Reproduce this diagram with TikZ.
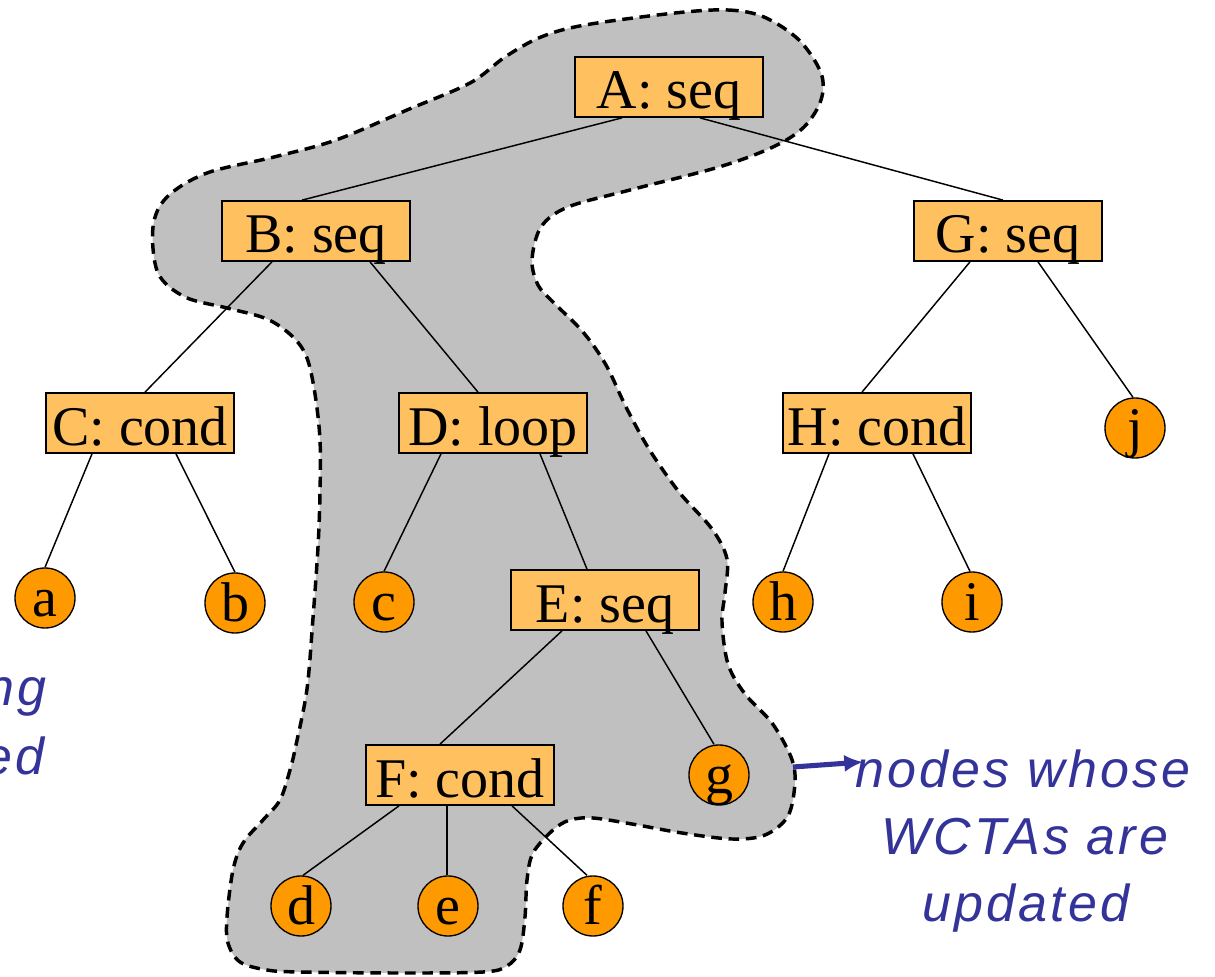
\documentclass[tikz,border=0pt]{standalone}
\usepackage{fontspec}
\setmainfont{Liberation Serif}
\newfontfamily\notefont[LetterSpace=6]{Liberation Sans}
\usetikzlibrary{arrows.meta,calc}
\definecolor{boxfill}{HTML}{FFC060}
\definecolor{leaffill}{HTML}{FF9900}
\definecolor{blobgray}{HTML}{C0C0C0}
\definecolor{noteblue}{HTML}{333399}
\tikzset{
  tbox/.style={draw=black, line width=1.3pt, fill=boxfill, minimum width=141pt, minimum height=45pt,
    inner sep=0pt, text height=33pt, text depth=0pt, font=\fontsize{42}{50}\selectfont},
  leaf/.style={circle, draw=black, line width=1pt, fill=leaffill, minimum size=45pt, inner sep=0pt,
    text height=27pt, text depth=0pt, font=\fontsize{42}{50}\selectfont},
  edge/.style={draw=black, line width=1.1pt},
  blob/.style={fill=blobgray, draw=black, line width=2.6pt, dash pattern=on 8pt off 5pt, line join=round},
  note/.style={text=noteblue, inner sep=0pt, font=\fontsize{39}{44}\selectfont\notefont\itshape},
  pointer/.style={draw=noteblue, line width=3.8pt, -{Latex[length=14pt,width=13pt]}}
}
\begin{document}
\begin{tikzpicture}[x=0.75pt,y=-0.75pt]
\useasboundingbox (0,0) rectangle (1215,977);
\clip (0,0) rectangle (1215,977);
% highlighted region
\draw[blob] plot[smooth cycle, tension=0.55] coordinates {
 (675,13) (728,10) (764,17) (799,40) (821,73) (821,100) (804,127) (773,147) (719,167)
 (630,190) (568,207) (541,227) (532,260) (538,285) (553,302) (583,332) (606,365)
 (626,407) (649,449) (679,492) (712,529) (727,559) (725,593) (722,622) (728,664)
 (745,694) (772,723) (791,757) (795,782) (788,816) (765,835) (732,839) (682,833)
 (632,824) (593,818) (570,820) (553,830) (533,853) (527,880) (525,917) (520,950)
 (507,966) (483,972) (400,973) (300,972) (267,970) (240,962) (228,943) (227,917)
 (233,870) (243,843) (263,820) (280,800) (290,770) (296,745) (307,689) (313,618)
 (318,547) (320,493) (320,440) (315,394) (307,358) (293,337) (267,319) (227,308)
 (185,297) (158,273) (153,227) (167,197) (207,173) (274,157) (336,140) (407,110)
 (470,83) (505,57) (541,37) (585,25)};
% inner nodes
\node[tbox] (A) at (669,87) {A: seq};
\node[tbox] (B) at (316,231) {B: seq};
\node[tbox] (G) at (1008,231) {G: seq};
\node[tbox] (C) at (140,423) {C: cond};
\node[tbox] (D) at (493,423) {D: loop};
\node[tbox] (H) at (877,423) {H: cond};
\node[tbox] (E) at (605,600) {E: seq};
\node[tbox] (F) at (460,775) {F: cond};
% leaves
\node[leaf] (a) at (45,598) {a};
\node[leaf] (b) at (235,603) {b};
\node[leaf] (c) at (384,602) {c};
\node[leaf] (h) at (783,602) {h};
\node[leaf] (i) at (972,602) {i};
\node[leaf] (j) at (1135,428) {j};
\node[leaf] (g) at (719,775) {g};
\node[leaf] (d) at (301,906) {d};
\node[leaf] (e) at (448,906) {e};
\node[leaf] (f) at (593,906) {f};
% edges
\draw[edge] ($(A.south)+(-47,0)$) -- ($(B.north)+(-14,0)$);
\draw[edge] ($(A.south)+(31,0)$) -- ($(G.north)+(-5,0)$);
\draw[edge] ($(B.south)+(-44,0)$) -- ($(C.north)+(5,0)$);
\draw[edge] ($(B.south)+(54,0)$) -- ($(D.north)+(-15,0)$);
\draw[edge] ($(G.south)+(-38,0)$) -- ($(H.north)+(-15,0)$);
\draw[edge] ($(G.south)+(30,0)$) -- ($(j.north)+(-2,0)$);
\draw[edge] ($(C.south)+(-48,0)$) -- (a.north);
\draw[edge] ($(C.south)+(36,0)$) -- (b.north);
\draw[edge] ($(D.south)+(-52,0)$) -- (c.north);
\draw[edge] ($(D.south)+(47,0)$) -- ($(E.north)+(-18,0)$);
\draw[edge] ($(H.south)+(-48,0)$) -- (h.north);
\draw[edge] ($(H.south)+(36,0)$) -- ($(i.north)+(-2,0)$);
\draw[edge] ($(E.south)+(-43,0)$) -- ($(F.north)+(-20,0)$);
\draw[edge] ($(E.south)+(41,0)$) -- ($(g.north)+(-5,0)$);
\draw[edge] ($(F.south)+(-61,0)$) -- ($(d.north)+(2,0)$);
\draw[edge] ($(F.south)+(-13,0)$) -- ($(e.north)+(-1,0)$);
\draw[edge] ($(F.south)+(52,0)$) -- ($(f.north)+(-6,0)$);
% annotations
\node[note, anchor=base] (n1) at (1023,787) {nodes whose};
\node[note, anchor=base] (n2) at (1025,854) {WCTAs are};
\node[note, anchor=base] (n3) at (1026,921) {updated};
\node[note, anchor=base east] (l1) at (47,705) {ng};
\node[note, anchor=base east] (l2) at (45,774) {ed};
\coordinate (ps) at (793,767);
\coordinate (pe) at (863,762);
\draw[pointer] (ps) -- (pe);
\end{tikzpicture}
\end{document}
